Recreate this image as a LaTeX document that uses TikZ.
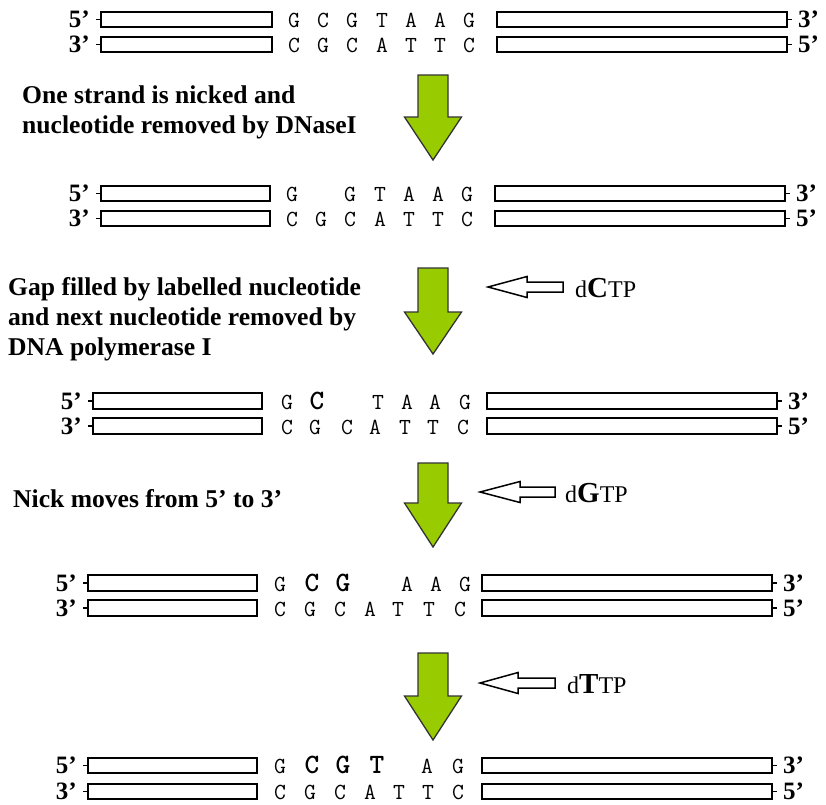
\documentclass[tikz,border=0pt]{standalone}
\usepackage{fontspec}
\setmainfont{Liberation Serif}[BoldFont={Liberation Serif Bold}]
\definecolor{arrowgreen}{HTML}{99CC00}
\begin{document}
\begin{tikzpicture}[x=1pt,y=-1pt,
  strand/.style={draw=black, line width=1.6pt, fill=white},
  endtick/.style={draw=black, line width=1.6pt},
  endlbl/.style={font=\fontsize{25}{30}\selectfont\bfseries, inner sep=0pt},
  steptext/.style={font=\fontsize{25.6}{30}\selectfont\bfseries, inner sep=0pt, anchor=base west},
  plainlet/.style={font=\fontsize{23}{26}\ttfamily, inner sep=0pt, anchor=base},
  boldlet/.style={font=\fontsize{28}{30}\ttfamily\bfseries, inner sep=0pt, anchor=base},
  greenarrow/.style={draw=black!80, line width=1.3pt, fill=arrowgreen, line join=miter},
  feedarrow/.style={draw=black, line width=1.5pt, fill=white, line join=miter},
  ntp/.style={font=\fontsize{24}{28}\selectfont, inner sep=0pt, anchor=base west}]
\useasboundingbox (0,0) rectangle (826,804);

% one duplex: #1 name, #2 top-strand top, #3 bottom-strand top, #4 bar height,
% #5 left bar x0, #6 left bar x1, #7 right bar x0, #8 right bar x1, #9 label gap
\newcommand{\duplex}[9]{%
  \pgfmathsetmacro{\ya}{#2+#4/2}\pgfmathsetmacro{\yb}{#3+#4/2}%
  \draw[endtick] (#5-5,\ya) -- (#5,\ya) (#5-5,\yb) -- (#5,\yb);
  \draw[endtick] (#8,\ya) -- (#8+5,\ya) (#8,\yb) -- (#8+5,\yb);
  \draw[strand] (#5,#2) rectangle (#6,#2+#4);
  \draw[strand] (#5,#3) rectangle (#6,#3+#4);
  \draw[strand] (#7,#2) rectangle (#8,#2+#4);
  \draw[strand] (#7,#3) rectangle (#8,#3+#4);
  \node[endlbl, anchor=east] (#1-l5) at (#5-5-#9,\ya) {5’};
  \node[endlbl, anchor=east] (#1-l3) at (#5-5-#9,\yb) {3’};
  \node[endlbl, anchor=west] (#1-r3) at (#8+5+#9,\ya) {3’};
  \node[endlbl, anchor=west] (#1-r5) at (#8+5+#9,\yb) {5’};
}
% a row of bases: #1 name, #2 baseline, #3 list x/letter/style
\newcommand{\bases}[3]{%
  \foreach \bx/\bc/\bs [count=\bi] in {#3} {
    \node[\bs] (#1-\bi) at (\bx,#2) {\bc};
  }
}
% green process arrow: #1 centre x, #2 top, #3 head start, #4 tip
\newcommand{\stepdown}[4]{%
  \draw[greenarrow] (#1-15,#2) -- (#1+15,#2) -- (#1+15,#3) -- (#1+28.5,#3)
    -- (#1,#4) -- (#1-28.5,#3) -- (#1-15,#3) -- cycle;
}
% open feed arrow: #1 tip x, #2 head back x, #3 tail x, #4 centre y
\newcommand{\feed}[4]{%
  \draw[feedarrow] (#1,#4) -- (#2,#4-10.5) -- (#2,#4-5) -- (#3,#4-5)
    -- (#3,#4+5) -- (#2,#4+5) -- (#2,#4+10.5) -- cycle;
}

% ---- duplex 1: intact
\duplex{d1}{12}{37}{15}{101}{272}{497}{787}{6}
\bases{d1t}{27}{294/G/plainlet,323/C/plainlet,352/G/plainlet,382/T/plainlet,411/A/plainlet,440/A/plainlet,469/G/plainlet}
\bases{d1b}{52}{294/C/plainlet,323/G/plainlet,352/C/plainlet,382/A/plainlet,411/T/plainlet,440/T/plainlet,469/C/plainlet}

\stepdown{433}{75}{117}{160}
\node[steptext] (s1a) at (22,103) {One strand is nicked and};
\node[steptext] (s1b) at (22,133) {nucleotide removed by DNaseI};

% ---- duplex 2: nick with one base removed
\duplex{d2}{186}{211}{15}{101}{270}{495}{785}{6}
\bases{d2t}{201}{292/G/plainlet,350/G/plainlet,380/T/plainlet,409/A/plainlet,438/A/plainlet,467/G/plainlet}
\bases{d2b}{226}{292/C/plainlet,321/G/plainlet,350/C/plainlet,380/A/plainlet,409/T/plainlet,438/T/plainlet,467/C/plainlet}

\stepdown{433}{268}{312}{354}
\feed{488}{527}{563}{287}
\node[ntp] (n1) at (575,297) {d{\fontsize{29}{30}\selectfont\bfseries C}TP};
\node[steptext] (s2a) at (8,295) {Gap filled by labelled nucleotide};
\node[steptext] (s2b) at (8,325) {and next nucleotide removed by};
\node[steptext] (s2c) at (8,355) {DNA polymerase I};

% ---- duplex 3
\duplex{d3}{393}{418}{16}{93}{262}{487}{777}{6}
\bases{d3t}{409}{287/G/plainlet,317/C/boldlet,378/T/plainlet,407/A/plainlet,435/A/plainlet,465/G/plainlet}
\bases{d3b}{434}{287/C/plainlet,315/G/plainlet,347/C/plainlet,375/A/plainlet,405/T/plainlet,433/T/plainlet,463/C/plainlet}

\stepdown{433}{463}{503}{547}
\feed{480}{520}{555}{492}
\node[ntp] (n2) at (565,502) {d{\fontsize{29}{30}\selectfont\bfseries G}TP};
\node[steptext] (s3) at (13,507) {Nick moves from 5’ to 3’};

% ---- duplex 4
\duplex{d4}{575}{600}{16}{88}{257}{482}{772}{6}
\bases{d4t}{591}{280/G/plainlet,312/C/boldlet,343/G/boldlet,407/A/plainlet,436/A/plainlet,465/G/plainlet}
\bases{d4b}{616}{280/C/plainlet,310/G/plainlet,340/C/plainlet,370/A/plainlet,398/T/plainlet,429/T/plainlet,460/C/plainlet}

\stepdown{433}{653}{696}{740}
\feed{480}{518}{555}{683}
\node[ntp] (n3) at (567,693) {d{\fontsize{29}{30}\selectfont\bfseries T}TP};

% ---- duplex 5
\duplex{d5}{758}{784}{15}{88}{257}{482}{772}{6}
\bases{d5t}{773}{280/G/plainlet,312/C/boldlet,343/G/boldlet,377/T/boldlet,427/A/plainlet,458/G/plainlet}
\bases{d5b}{799}{280/C/plainlet,310/G/plainlet,340/C/plainlet,370/A/plainlet,399/T/plainlet,428/T/plainlet,458/C/plainlet}
\end{tikzpicture}
\end{document}
